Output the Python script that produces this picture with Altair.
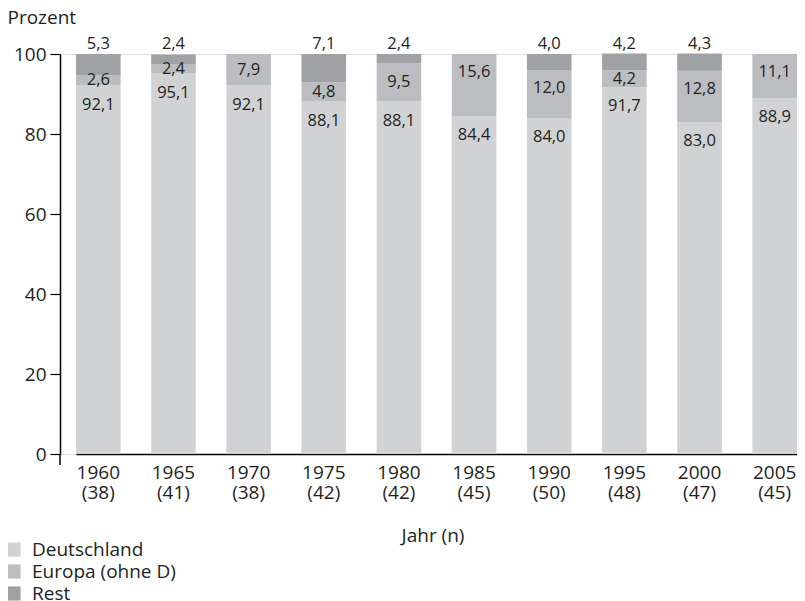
import altair as alt
import pandas as pd

years = ["1960", "1965", "1970", "1975", "1980", "1985", "1990", "1995", "2000", "2005"]
n_values = [38, 41, 38, 42, 42, 45, 50, 48, 47, 45]
deutschland = [92.1, 95.1, 92.1, 88.1, 88.1, 84.4, 84.0, 91.7, 83.0, 88.9]
europa = [2.6, 2.4, 7.9, 4.8, 9.5, 15.6, 12.0, 4.2, 12.8, 11.1]
rest = [5.3, 2.4, 0.0, 7.1, 2.4, 0.0, 4.0, 4.2, 4.3, 0.0]
series = ["Deutschland", "Europa (ohne D)", "Rest"]
colors = ["#d1d2d4", "#bcbdc1", "#a0a1a5"]

FONT = "Open Sans"
TXT = "#231f20"
FS = 19

cats = [f"{y} ({n})" for y, n in zip(years, n_values)]

rows = []
for i, c in enumerate(cats):
    vals = [deutschland[i], europa[i], rest[i]]
    for k, (s, v) in enumerate(zip(series, vals)):
        rows.append({"cat": c, "series": s, "order": k, "value": v})
df = pd.DataFrame(rows)

def fmt(v):
    return f"{v:.1f}".replace(".", ",")

# label positions derived from the data
lab_de = pd.DataFrame({"cat": cats, "value": deutschland, "txt": [fmt(v) for v in deutschland]})
eu_top = [d + e for d, e in zip(deutschland, europa)]
eu_pos = [t - min(e / 2, 4.5) for t, e in zip(eu_top, europa)]
lab_eu = pd.DataFrame({"cat": cats, "pos": eu_pos, "txt": [fmt(v) for v in europa]})
lab_re = pd.DataFrame({"cat": cats, "value": rest, "txt": [fmt(v) for v in rest]})
lab_re = lab_re[lab_re["value"] > 0].copy()
lab_re["top"] = 100

xscale = alt.Scale(domain=cats, range=[16, 737], paddingInner=0.406, paddingOuter=0)
xenc = alt.X("cat:N", scale=xscale, sort=cats,
             axis=alt.Axis(title="Jahr (n)", labelExpr="split(datum.value, ' ')",
                           labelAngle=0, ticks=False, labelPadding=9,
                           labelLineHeight=20, labelFontSize=FS, labelFont=FONT,
                           labelColor=TXT, titleFont=FONT, titleFontSize=FS,
                           titleFontWeight="normal", titleColor=TXT, titlePadding=24,
                           titleX=372.5, titleAnchor="middle",
                           domainColor="#000000", domainWidth=1.5))
yscale = alt.Scale(domain=[0, 100])

bars = alt.Chart(df).mark_bar(size=44.6).encode(
    x=xenc,
    y=alt.Y("sum(value):Q", stack="zero", scale=yscale,
            axis=alt.Axis(title="Prozent", values=list(range(0, 101, 10)),
                          labelExpr="datum.value % 20 == 0 ? datum.label : ''",
                          tickSize=10, tickColor="#000000", tickWidth=1.2,
                          domainColor="#000000", domainWidth=1.5,
                          labelPadding=4, labelFontSize=FS, labelFont=FONT,
                          labelColor=TXT, grid=False,
                          titleAngle=0, titleAlign="left", titleBaseline="alphabetic",
                          titleX=-53, titleY=-31, titleFont=FONT, titleFontSize=FS,
                          titleFontWeight="normal", titleColor=TXT)),
    color=alt.Color("series:N", scale=alt.Scale(domain=series, range=colors),
                    legend=alt.Legend(title=None, orient="none", legendX=-56, legendY=486,
                                      symbolType="square", symbolSize=200,
                                      symbolStrokeWidth=0, symbolOpacity=1,
                                      labelFont=FONT, labelFontSize=FS, labelColor=TXT,
                                      labelOffset=9, rowPadding=2)),
    order=alt.Order("order:Q"),
)

text_props = dict(font=FONT, fontSize=16.5, color=TXT, baseline="middle", align="center")

t_de = alt.Chart(lab_de).mark_text(dy=19, **text_props).encode(
    x=alt.X("cat:N", scale=xscale, sort=cats),
    y=alt.Y("value:Q", scale=yscale),
    text="txt:N",
)
t_eu = alt.Chart(lab_eu).mark_text(**text_props).encode(
    x=alt.X("cat:N", scale=xscale, sort=cats),
    y=alt.Y("pos:Q", scale=yscale),
    text="txt:N",
)
t_re = alt.Chart(lab_re).mark_text(dy=-10, **text_props).encode(
    x=alt.X("cat:N", scale=xscale, sort=cats),
    y=alt.Y("top:Q", scale=yscale),
    text="txt:N",
)

stub = alt.Chart(pd.DataFrame({"a": [0]})).mark_rule(color="#000000", strokeWidth=1.5).encode(
    x=alt.value(0), y=alt.value(400), y2=alt.value(411)
)

chart = alt.layer(bars, t_de, t_eu, t_re, stub).properties(
    width=737, height=400,
    autosize=alt.AutoSizeParams(type="none"),
    padding={"left": 52, "top": 46, "right": 0, "bottom": 148},
).configure_view(stroke=None).configure(font=FONT)

chart.save("out.html", embed_options={"renderer": "svg", "actions": False})
